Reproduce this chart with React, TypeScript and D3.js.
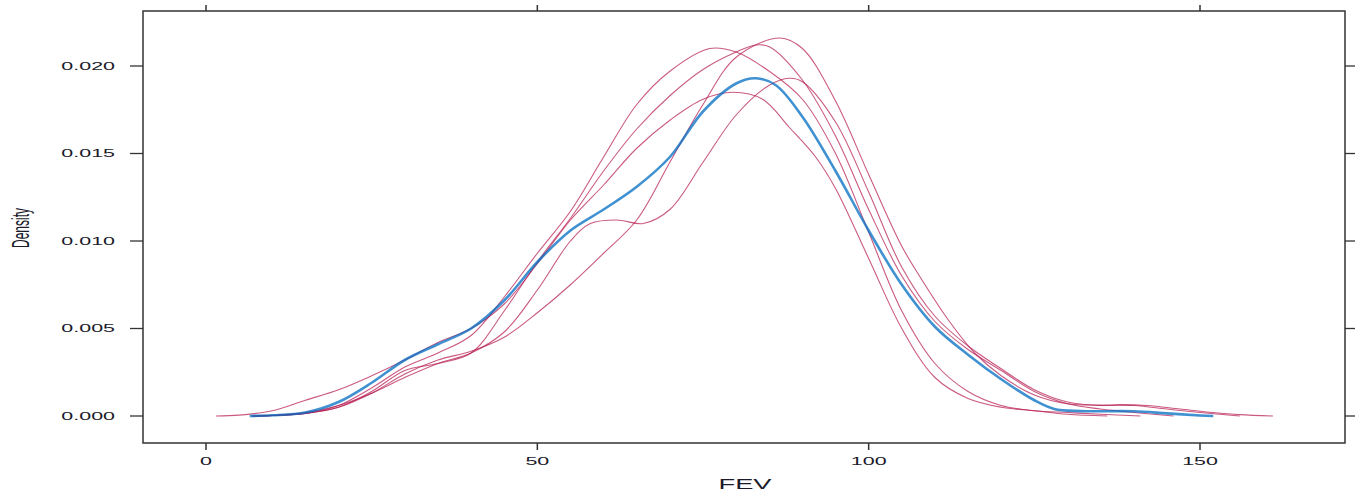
import React from "react";
import * as d3 from "d3";

// x-axis ticks (FEV) and y-axis ticks (Density)
const xTicks = [0, 50, 100, 150];
const yTicks = [0.0, 0.005, 0.01, 0.015, 0.02];
const yTickLabels = ["0.000", "0.005", "0.010", "0.015", "0.020"];

// Observed data density (blue)
const observed: [number, number][] = [
  [6.6, 0], [10, 0.00004], [15, 0.0002], [20, 0.0008], [25, 0.0019], [30, 0.0032],
  [35, 0.0041], [40, 0.005], [45, 0.0066], [50, 0.0088], [55, 0.0106], [60, 0.0118],
  [65, 0.0131], [70, 0.0148], [75, 0.0174], [80, 0.019], [83, 0.0193], [86, 0.0189],
  [90, 0.0171], [95, 0.014], [100, 0.0106], [105, 0.0075], [110, 0.0051], [115, 0.0035],
  [120, 0.0021], [125, 0.0009], [128, 0.0004], [132, 0.00028], [140, 0.00027],
  [145, 0.00015], [150, 0.00003], [152, 0],
];

// Imputed data densities (red)
const imputed1: [number, number][] = [
  [7, 0], [10, 0.00003], [15, 0.00015], [20, 0.0006], [25, 0.0016], [30, 0.0028],
  [35, 0.0036], [40, 0.0046], [45, 0.0068], [50, 0.0093], [55, 0.0117], [60, 0.0148],
  [65, 0.0178], [70, 0.0197], [76, 0.021], [80, 0.0208], [85, 0.0197], [90, 0.0181],
  [95, 0.015], [100, 0.0105], [105, 0.006], [110, 0.003], [115, 0.0014], [120, 0.0006],
  [125, 0.0003], [130, 0.0002], [135, 0.0001], [141, 0],
];
const imputed2: [number, number][] = [
  [7, 0], [10, 0.00003], [15, 0.00015], [20, 0.0005], [25, 0.0013], [30, 0.0024],
  [35, 0.0032], [40, 0.0037], [45, 0.0045], [50, 0.0059], [55, 0.0075], [60, 0.0093],
  [65, 0.0112], [70, 0.0145], [75, 0.0178], [80, 0.0205], [86.6, 0.0216], [90, 0.021],
  [95, 0.018], [100, 0.0138], [105, 0.0097], [108, 0.0078], [112, 0.0055], [116, 0.0036],
  [120, 0.0023], [125, 0.0012], [130, 0.0007], [135, 0.00062], [140, 0.0006],
  [145, 0.0004], [150, 0.0002], [156, 0],
];
const imputed3: [number, number][] = [
  [7, 0], [10, 0.00003], [15, 0.00015], [20, 0.0005], [25, 0.0014], [30, 0.0026],
  [35, 0.003], [40, 0.0036], [45, 0.006], [50, 0.0088], [55, 0.0113], [60, 0.014],
  [65, 0.0164], [70, 0.0183], [75, 0.0198], [80, 0.0208], [83, 0.0212], [85, 0.0211],
  [90, 0.0192], [95, 0.016], [100, 0.0118], [105, 0.008], [110, 0.0054], [115, 0.0038],
  [120, 0.0026], [125, 0.0014], [130, 0.0007], [135, 0.0004], [140, 0.0002], [146, 0],
];
const imputed4: [number, number][] = [
  [1.5, 0], [5, 0.00005], [10, 0.0003], [15, 0.0009], [20, 0.0015], [25, 0.0023],
  [30, 0.0032], [35, 0.0042], [40, 0.005], [45, 0.0064], [50, 0.0087], [55, 0.0112],
  [60, 0.0132], [65, 0.0153], [70, 0.0169], [75, 0.0181], [79.5, 0.0185], [84, 0.0181],
  [88, 0.0165], [92, 0.0148], [95, 0.013], [100, 0.009], [105, 0.005], [110, 0.0022],
  [115, 0.001], [120, 0.0005], [125, 0.0003], [130, 0.0001], [136, 0],
];
const imputed5: [number, number][] = [
  [7, 0], [10, 0.00004], [15, 0.0002], [20, 0.0006], [25, 0.0013], [30, 0.0022],
  [35, 0.003], [40, 0.0036], [45, 0.0048], [50, 0.0072], [55, 0.01], [58, 0.011],
  [62, 0.0112], [66, 0.011], [70, 0.0118], [75, 0.0145], [80, 0.0172], [85, 0.0189],
  [88, 0.0193], [90, 0.0191], [95, 0.0168], [100, 0.0128], [105, 0.0085], [110, 0.0057],
  [115, 0.004], [120, 0.0027], [125, 0.0015], [130, 0.0008], [135, 0.0006],
  [138, 0.00065], [142, 0.0006], [147, 0.0004], [152, 0.0002], [156, 0.00008], [161, 0],
];
const imputedSeries = [imputed1, imputed2, imputed3, imputed4, imputed5];

const W = 1357;
const H = 492;
const frame = { left: 143, right: 1345, top: 11, bottom: 443 };

export default function App() {
  const x = d3.scaleLinear().domain([0, 150]).range([206, 1200]);
  const y = d3.scaleLinear().domain([0, 0.02]).range([416, 66]);

  const line = d3
    .line<[number, number]>()
    .x((d) => x(d[0]))
    .y((d) => y(d[1]))
    .curve(d3.curveCatmullRom.alpha(0.5));

  const font = "'Liberation Sans', Arial, Helvetica, sans-serif";
  const textColor = "#1a1a2a";

  return (
    <svg
      width={W}
      height={H}
      style={{ position: "absolute", left: 0, top: 0, background: "#fff" }}
    >
      <defs>
        <clipPath id="plotClip">
          <rect
            x={frame.left}
            y={frame.top}
            width={frame.right - frame.left}
            height={frame.bottom - frame.top}
          />
        </clipPath>
      </defs>
      <rect x={0} y={0} width={W} height={H} fill="#fff" />

      {/* curves */}
      <g clipPath="url(#plotClip)">
        {imputedSeries.map((s, i) => (
          <path
            key={i}
            d={line(s) || ""}
            fill="none"
            stroke="#B61A51"
            strokeOpacity={0.72}
            strokeWidth={1.1}
          />
        ))}
        <path
          d={line(observed) || ""}
          fill="none"
          stroke="#006CC2"
          strokeOpacity={0.75}
          strokeWidth={2.6}
        />
      </g>

      {/* frame */}
      <rect
        x={frame.left}
        y={frame.top}
        width={frame.right - frame.left}
        height={frame.bottom - frame.top}
        fill="none"
        stroke="#333"
        strokeWidth={1.5}
      />

      {/* left ticks + labels, right ticks */}
      {yTicks.map((t, i) => (
        <g key={"y" + i}>
          <line x1={frame.left - 13} x2={frame.left} y1={y(t)} y2={y(t)} stroke="#333" strokeWidth={1.3} />
          <line x1={frame.right} x2={frame.right + 10} y1={y(t)} y2={y(t)} stroke="#333" strokeWidth={1.3} />
          <text
            transform={`translate(115,${y(t)}) scale(1.95,1)`}
            textAnchor="end"
            dominantBaseline="central"
            fontFamily={font}
            fontSize={11}
            fill={textColor}
          >
            {yTickLabels[i]}
          </text>
        </g>
      ))}

      {/* bottom ticks + labels, top ticks */}
      {xTicks.map((t, i) => (
        <g key={"x" + i}>
          <line x1={x(t)} x2={x(t)} y1={frame.bottom} y2={frame.bottom + 7} stroke="#333" strokeWidth={1.5} />
          <line x1={x(t)} x2={x(t)} y1={frame.top - 6} y2={frame.top} stroke="#333" strokeWidth={1.5} />
          <text
            transform={`translate(${x(t)},465) scale(1.95,1)`}
            textAnchor="middle"
            fontFamily={font}
            fontSize={11}
            fill={textColor}
          >
            {String(t)}
          </text>
        </g>
      ))}

      {/* axis titles */}
      <text
        transform={`translate(745,489) scale(1.95,1)`}
        textAnchor="middle"
        fontFamily={font}
        fontSize={14}
        fill={textColor}
      >
        FEV
      </text>
      <text
        transform={`translate(29,228) scale(2,1) rotate(-90)`}
        textAnchor="middle"
        fontFamily={font}
        fontSize={12}
        fill={textColor}
      >
        Density
      </text>
    </svg>
  );
}
